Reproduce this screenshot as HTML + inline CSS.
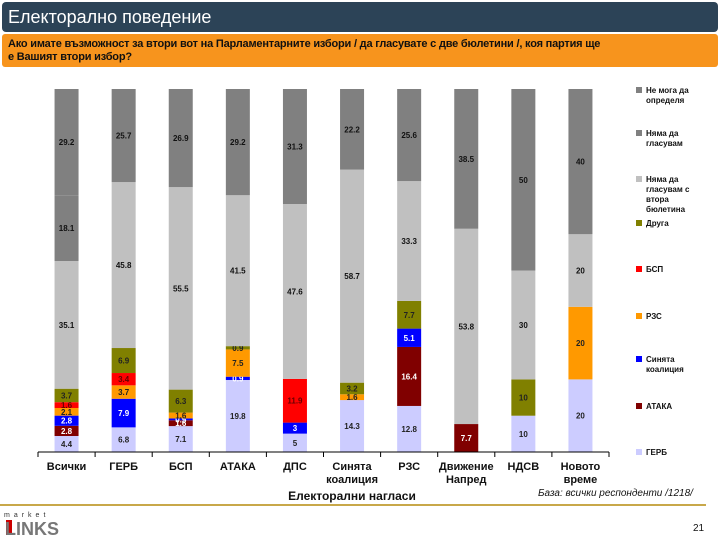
<!DOCTYPE html>
<html><head><meta charset="utf-8"><style>
body{margin:0;width:720px;height:540px;background:#fff;overflow:hidden;font-family:"Liberation Sans","DejaVu Sans",sans-serif;position:relative}
#title{position:absolute;left:2px;top:2px;width:716px;height:30px;background:#2c4357;border-radius:4px;color:#fff;font-size:18px;line-height:30px;padding-left:6px;box-sizing:border-box}
#q{position:absolute;left:2px;top:34px;width:716px;height:33px;background:#f7941d;border-radius:3px;font-size:11px;font-weight:bold;padding:4px 40px 4px 6px;box-sizing:border-box;line-height:13px;color:#111;letter-spacing:-0.2px}
svg{position:absolute;left:0;top:0}
</style></head><body>
<div id="title">Електорално поведение</div>
<div id="q">Ако имате възможност за втори вот на Парламентарните избори / да гласувате с две бюлетини /, коя партия ще<br>е Вашият втори избор?</div>
<svg id="chart" width="720" height="540"></svg>
<script>
const categories=[["Всички"],["ГЕРБ"],["БСП"],["АТАКА"],["ДПС"],["Синята","коалиция"],["РЗС"],["Движение","Напред"],["НДСВ"],["Новото","време"]];
const seriesNames=["ГЕРБ","АТАКА","Синята коалиция","РЗС","БСП","Друга","Няма да гласувам с втора бюлетина","Няма да гласувам","Не мога да определя"];
const gerb=[4.4,6.8,7.1,19.8,5,14.3,12.8,0,10,20];
const ataka=[2.8,0,1.6,0,0,0,16.4,7.7,0,0];
const sinyata=[2.8,7.9,0.5,0.9,3,0,5.1,0,0,0];
const rzs=[2.1,3.7,1.6,7.5,0,1.6,0,0,0,20];
const bsp=[1.6,3.4,0,0,11.9,0,0,0,0,0];
const druga=[3.7,6.9,6.3,0.9,0,3.2,7.7,0,10,0];
const vtora=[35.1,45.8,55.5,41.5,47.6,58.7,33.3,53.8,30,20];
const nyama=[18.1,0,0,0,0,0,0,0,0,0];
const nemoga=[29.2,25.7,26.9,29.2,31.3,22.2,25.6,38.5,50,40];
const series=[gerb,ataka,sinyata,rzs,bsp,druga,vtora,nyama,nemoga];
const colors=["#ccccff","#800000","#0000ff","#ff9900","#ff0000","#808000","#c0c0c0","#808080","#808080"];
const labelColors=["#222","#fff","#fff","#222","#600","#222","#111","#111","#111"];
const svgEl=document.getElementById('chart');const NS="http://www.w3.org/2000/svg";
function mk(t,a,p){const e=document.createElementNS(NS,t);for(const k in a)e.setAttribute(k,a[k]);(p||svgEl).appendChild(e);return e;}
const x0=38,step=57.1,plotTop=89,plotBottom=452,bw=24;
const xC=i=>x0+step*(i+0.5);
const yS=(v,tot)=>(plotBottom-plotTop)*v/tot;
categories.forEach((c,i)=>{
 let tot=0;series.forEach(s=>tot+=s[i]);
 let y=plotBottom;
 series.forEach((s,k)=>{
  const v=s[i];if(!v)return;
  const h=yS(v,tot);y-=h;
  const r=mk('rect',{x:xC(i)-bw/2,y:y,width:bw,height:h,fill:colors[k]});
  
  
  const t=mk('text',{x:xC(i),y:y+h/2+3,'text-anchor':'middle','font-size':8,'font-weight':'bold',fill:labelColors[k]});
  
  
  t.textContent=String(v);
 });
 c.forEach((ln,j)=>{
  const t=mk('text',{x:xC(i),y:470+j*13,'text-anchor':'middle','font-size':11,'font-weight':'bold',fill:'#111'});
  
  
  t.textContent=ln;
 });
});
mk('line',{x1:x0,y1:plotBottom,x2:x0+step*10,y2:plotBottom,stroke:'#000','stroke-width':1});
for(let i=0;i<=10;i++)mk('line',{x1:x0+step*i,y1:plotBottom,x2:x0+step*i,y2:plotBottom+5,stroke:'#000'});
const legY=[91,134,180,224,270,317,360,407,453];
const legText=[["Не мога да","определя"],["Няма да","гласувам"],["Няма да","гласувам с","втора","бюлетина"],["Друга"],["БСП"],["РЗС"],["Синята","коалиция"],["АТАКА"],["ГЕРБ"]];
const legOrder=[8,7,6,5,4,3,2,1,0];
legOrder.forEach((k,j)=>{
 const r=mk('rect',{x:636,y:legY[j]-4,width:6,height:6,fill:colors[k]});
 
 
 legText[j].forEach((ln,m)=>{
  const t=mk('text',{x:646,y:legY[j]+2+m*10,'font-size':8,'font-weight':'bold',fill:'#111'});
  
  
  t.textContent=ln;
 });
});
let t=mk('text',{x:352,y:500,'text-anchor':'middle','font-size':12,'font-weight':'bold',fill:'#111'});
t.textContent="Електорални нагласи";
t=mk('text',{x:538,y:496,'font-size':10,'font-style':'italic',fill:'#111'});
t.textContent="База: всички респонденти /1218/";
mk('rect',{x:0,y:504,width:706,height:2,fill:'#c8a84a'});
t=mk('text',{x:4,y:517,'font-size':7,fill:'#333','letter-spacing':'4'});
t.textContent="market";
mk('rect',{x:6,y:520,width:6,height:15,fill:'#c00'});
t=mk('text',{x:5,y:535,'font-size':18,'font-weight':'bold',fill:'#777'});
t.textContent="LINKS";
t=mk('text',{x:693,y:531,'font-size':10,fill:'#111'});
t.textContent="21";
</script>
</body></html>
